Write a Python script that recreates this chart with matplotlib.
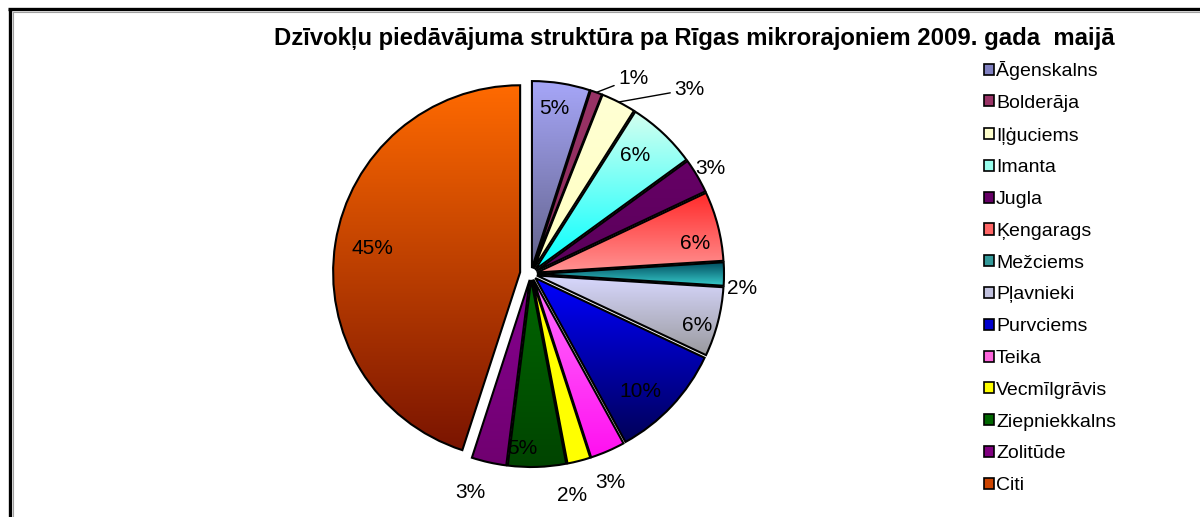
import matplotlib
matplotlib.use('Agg')
import matplotlib.pyplot as plt
import numpy as np
from matplotlib.colors import LinearSegmentedColormap
from matplotlib.patches import Patch

plt.rcParams['font.family'] = ['Liberation Sans', 'DejaVu Sans']

# data
districts = ['Āgenskalns', 'Bolderāja', 'Iļģuciems', 'Imanta', 'Jugla', 'Ķengarags',
             'Mežciems', 'Pļavnieki', 'Purvciems', 'Teika', 'Vecmīlgrāvis',
             'Ziepniekkalns', 'Zolitūde', 'Citi']
shares = [5, 1, 3, 6, 3, 6, 2, 6, 10, 3, 2, 5, 3, 45]

TITLE = 'Dzīvokļu piedāvājuma struktūra pa Rīgas mikrorajoniem 2009. gada  maijā'

# styling
grad_top = ['#a6a6f8', '#993366', '#ffffd4', '#d4fff0', '#660066', '#ff2a2a', '#004c5e',
            '#d8d8ff', '#0000ff', '#ff70ff', '#ffff00', '#006600', '#860090', '#ff6a00']
grad_bot = ['#62628a', '#8c2a5c', '#ffffc0', '#00ffff', '#5a005a', '#ff9494', '#38cccc',
            '#9a9a9e', '#000058', '#ff10f0', '#ffff00', '#004400', '#700070', '#7a1400']
legend_cols = ['#8080c0', '#993366', '#ffffcc', '#99ffee', '#660066', '#ff6666', '#339999',
               '#c0c0dd', '#0000cc', '#ff66dd', '#ffff00', '#006600', '#800080', '#cc4400']
explode = [6] * 13 + [11]
# label placement: distance (x radius) from wedge centre and angle shift in degrees
label_r = [0.86, 1.15, 1.27, 0.81, 1.08, 0.86, 1.10, 0.90, 0.83, 1.16, 1.17, 0.90, 1.18, 0.80]
label_da = [1, -8, -14, 2, 0, -4, -4, -3, -4, -2.5, -4, -5, -3, 0]
leader = [False, True, True] + [False] * 11

W, H = 1200, 517
R = 187
CX, CY = 531, H - 274

fig = plt.figure(figsize=(W / 100, H / 100), dpi=100)
ax = fig.add_axes([0, 0, 1, 1])

wedges, _ = ax.pie(shares, explode=explode, startangle=90, counterclock=False,
                   radius=R, center=(CX, CY), frame=True,
                   wedgeprops=dict(edgecolor='black', linewidth=1.5))

grad = np.linspace(0, 1, 256).reshape(-1, 1)
for w, ct, cb in zip(wedges, grad_top, grad_bot):
    bb = w.get_path().get_extents()
    cmap = LinearSegmentedColormap.from_list('g', [cb, ct])
    im = ax.imshow(grad, cmap=cmap, origin='lower', aspect='auto',
                   extent=(bb.x0, bb.x1, bb.y0, bb.y1), zorder=0.5)
    im.set_clip_path(w)
    w.set_facecolor('none')

for i, w in enumerate(wedges):
    mid = np.deg2rad((w.theta1 + w.theta2) / 2)
    ang = mid + np.deg2rad(label_da[i])
    cx, cy = w.center
    tx, ty = cx + R * label_r[i] * np.cos(ang), cy + R * label_r[i] * np.sin(ang)
    txt = f'{shares[i]}%'
    if leader[i]:
        ex, ey = cx + R * np.cos(mid), cy + R * np.sin(mid)
        ax.annotate(txt, xy=(ex, ey), xytext=(tx, ty), ha='center', va='center',
                    fontsize=15,
                    arrowprops=dict(arrowstyle='-', color='black', lw=1,
                                    shrinkA=1, shrinkB=0))
    else:
        ax.text(tx, ty, txt, ha='center', va='center', fontsize=15, color='black')

ax.set_xlim(0, W)
ax.set_ylim(0, H)
ax.set_aspect('auto')
ax.axis('off')

# frame
ax.plot([9.5, 9.5], [0, H - 8.5], color='black', lw=2.4, solid_capstyle='butt')
ax.plot([8, W], [H - 8.5, H - 8.5], color='black', lw=2.4, solid_capstyle='butt')
ax.plot([12.5, 12.5], [0, H - 11.5], color='#a0a0a0', lw=0.8)
ax.plot([12.5, W], [H - 11.5, H - 11.5], color='#a0a0a0', lw=0.8)

fig.text(694 / W, 1 - 38 / H, TITLE, ha='center', va='center',
         fontsize=17.2, fontweight='bold')

handles = [Patch(facecolor=c, edgecolor='black', linewidth=1.2) for c in legend_cols]
fig.legend(handles, districts, loc='upper left', bbox_to_anchor=(984 / W, 1 - 61 / H),
           frameon=False, fontsize=14, handlelength=0.5, handleheight=0.5,
           handletextpad=0.12, labelspacing=0.76, borderpad=0, borderaxespad=0)

fig.savefig('out.png', dpi=100)
